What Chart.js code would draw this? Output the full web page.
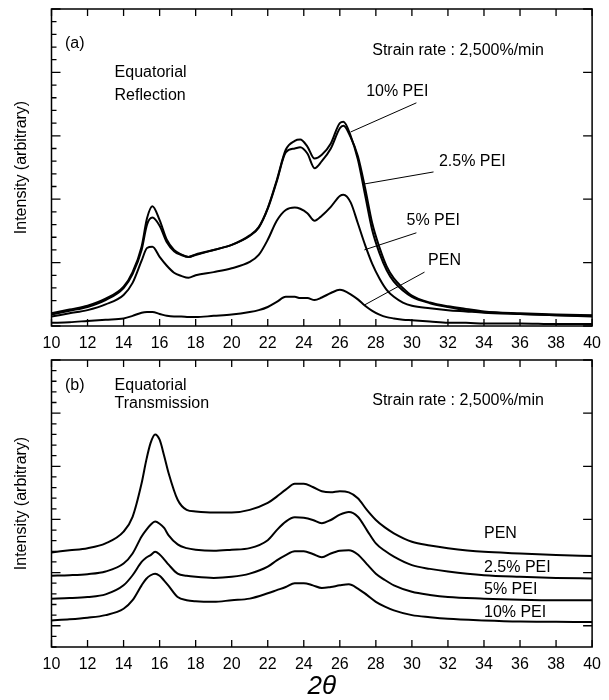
<!DOCTYPE html>
<html>
<head>
<meta charset="utf-8">
<script src="https://cdn.jsdelivr.net/npm/chart.js@4.4.1/dist/chart.umd.min.js"></script>
<style>
  html, body { margin: 0; padding: 0; background: #fff; }
  #wrap { position: relative; width: 609px; height: 700px; }
  canvas { position: absolute; left: 0; }
  #chartA { top: 0; }
  #chartB { top: 350px; }
</style>
</head>
<body>
<div id="wrap">
  <canvas id="chartA" width="609" height="350"></canvas>
  <canvas id="chartB" width="609" height="350"></canvas>
</div>
<script>
// (a) equatorial reflection — 2θ grid and intensities (arbitrary units, 0..50)
const reflTheta = [10, 11, 12, 13, 14, 14.5, 15, 15.3, 15.6, 16, 16.4, 16.8, 17.2, 17.6, 18, 19, 20, 21, 21.5, 22,
  22.5, 23, 23.5, 23.8, 24.2, 24.6, 25, 25.5, 26, 26.2, 26.6, 27, 27.4, 27.8, 28.2, 28.6, 29, 29.5, 30, 31,
  32, 33, 34, 36, 38, 40];
const refl10 = [2.0, 2.6, 3.2, 4.3, 6.2, 8.5, 12.5, 17.0, 18.9, 16.7, 13.6, 12.0, 11.3, 10.9, 11.3, 12.0, 12.8, 14.3, 15.6, 18.6,
  23.0, 27.8, 29.2, 29.4, 28.3, 26.4, 27.0, 28.8, 32.0, 32.2, 30.0, 26.3, 20.7, 15.1, 11.5, 8.8, 7.0, 5.6, 4.6, 3.6,
  3.0, 2.5, 2.2, 1.9, 1.7, 1.6];
const refl25 = [1.8, 2.4, 3.0, 4.1, 6.0, 8.2, 12.0, 16.0, 17.1, 15.8, 13.2, 11.8, 11.2, 10.9, 11.2, 12.0, 12.8, 14.2, 15.5, 18.5,
  22.8, 27.4, 28.0, 28.2, 27.2, 24.9, 26.0, 28.0, 31.2, 31.6, 29.8, 26.8, 21.8, 16.2, 12.4, 9.4, 7.5, 6.0, 4.8, 3.7,
  3.1, 2.7, 2.3, 2.0, 1.8, 1.7];
const refl5 = [1.5, 2.0, 2.5, 3.4, 4.9, 6.8, 10.3, 12.3, 12.5, 10.9, 9.5, 8.4, 7.9, 7.6, 8.0, 8.5, 9.1, 10.1, 11.2, 13.6,
  16.6, 18.3, 18.7, 18.5, 17.8, 16.6, 17.4, 18.8, 20.5, 20.7, 19.5, 16.2, 12.8, 9.8, 7.5, 5.7, 4.6, 3.7, 3.2, 2.8,
  2.5, 2.3, 2.1, 1.9, 1.7, 1.5];
const reflPEN = [0.5, 0.6, 0.8, 1.0, 1.2, 1.6, 2.1, 2.2, 2.2, 1.9, 1.6, 1.5, 1.5, 1.4, 1.4, 1.6, 1.8, 2.2, 2.5, 3.0,
  3.8, 4.6, 4.6, 4.4, 4.4, 4.1, 4.5, 5.2, 5.7, 5.6, 5.0, 4.2, 3.2, 2.4, 1.8, 1.4, 1.2, 1.0, 0.9, 0.7,
  0.5, 0.5, 0.4, 0.4, 0.3, 0.3];

// (b) equatorial transmission — curves offset vertically (arbitrary units, -4..50)
const transTheta = [10, 11, 12, 13, 14, 14.5, 15, 15.25, 15.5, 15.75, 16, 16.25, 16.5, 17, 17.5, 18, 19, 20, 21, 22,
  22.5, 23, 23.5, 24, 24.5, 25, 25.5, 26, 26.5, 27, 27.5, 28, 28.5, 29, 30, 31, 32, 34, 36, 38, 40];
const transPEN = [13.8, 14.2, 14.6, 15.5, 17.7, 20.5, 26.8, 31.0, 34.4, 36.0, 35.0, 32.0, 28.7, 23.7, 21.8, 21.5, 21.3, 21.3, 21.8, 23.1,
  24.3, 25.6, 26.7, 26.7, 26.1, 25.3, 25.1, 25.3, 25.1, 24.0, 21.8, 19.9, 18.5, 17.4, 15.8, 15.1, 14.6, 13.9, 13.6, 13.3, 13.1];
const trans25 = [9.4, 9.5, 9.7, 10.2, 11.7, 13.6, 16.8, 18.0, 19.0, 19.6, 19.2, 18.4, 17.0, 15.3, 14.6, 14.3, 14.1, 14.3, 14.6, 16.1,
  18.0, 19.6, 20.4, 20.3, 19.9, 19.3, 19.9, 20.9, 21.4, 20.5, 18.0, 15.5, 14.1, 13.0, 11.4, 10.7, 10.2, 9.5, 9.2, 9.0, 8.9];
const trans5 = [5.1, 5.2, 5.4, 5.9, 7.6, 9.5, 12.0, 12.8, 13.3, 13.9, 13.4, 12.5, 11.5, 9.8, 9.4, 9.2, 9.0, 9.2, 9.8, 11.1,
  12.3, 13.3, 14.0, 14.0, 13.5, 12.9, 13.6, 14.1, 14.2, 13.4, 11.6, 9.8, 8.6, 7.6, 6.4, 5.8, 5.4, 5.1, 4.9, 4.8, 4.8];
const trans10 = [1.0, 1.2, 1.5, 2.0, 3.2, 4.8, 7.6, 8.8, 9.5, 9.8, 9.4, 8.5, 7.5, 5.4, 4.8, 4.6, 4.5, 4.8, 5.1, 6.1,
  6.7, 7.3, 8.0, 8.0, 7.6, 7.1, 7.3, 7.6, 7.8, 7.0, 5.8, 4.5, 3.6, 2.9, 2.0, 1.6, 1.3, 1.0, 0.8, 0.75, 0.7];

const FONT = "'Liberation Sans', Arial, sans-serif";

// frame plus inward ticks, like the printed figure
const frameTicks = {
  id: 'frameTicks',
  afterDraw(chart) {
    const { ctx, chartArea: a, scales: { x, y } } = chart;
    ctx.save();
    ctx.strokeStyle = '#000';
    ctx.lineWidth = 1.5;
    ctx.strokeRect(a.left, a.top, a.right - a.left, a.bottom - a.top);
    ctx.lineWidth = 1.3;
    ctx.beginPath();
    x.ticks.forEach(t => {
      const px = x.getPixelForValue(t.value);
      ctx.moveTo(px, a.bottom); ctx.lineTo(px, a.bottom - 7);
      ctx.moveTo(px, a.top); ctx.lineTo(px, a.top + 7);
    });
    y.ticks.forEach(t => {
      const py = y.getPixelForValue(t.value);
      const major = Math.abs(t.value % 10) < 1e-6;
      ctx.moveTo(a.left, py); ctx.lineTo(a.left + (major ? 9 : 5), py);
      if (major) { ctx.moveTo(a.right, py); ctx.lineTo(a.right - 9, py); }
    });
    ctx.stroke();
    ctx.restore();
  }
};

// text labels and leader lines, placed in data units
function notes(texts, leaders) {
  return {
    id: 'notes',
    afterDraw(chart) {
      const { ctx, scales: { x, y } } = chart;
      ctx.save();
      ctx.fillStyle = '#000';
      ctx.font = '16px ' + FONT;
      ctx.textAlign = 'left';
      ctx.textBaseline = 'middle';
      texts.forEach(t => ctx.fillText(t.text, x.getPixelForValue(t.x), y.getPixelForValue(t.y)));
      ctx.strokeStyle = '#000';
      ctx.lineWidth = 1;
      ctx.beginPath();
      leaders.forEach(l => {
        ctx.moveTo(x.getPixelForValue(l[0]), y.getPixelForValue(l[1]));
        ctx.lineTo(x.getPixelForValue(l[2]), y.getPixelForValue(l[3]));
      });
      ctx.stroke();
      ctx.restore();
    }
  };
}

function series(theta, vals) {
  return {
    data: theta.map((t, i) => ({ x: t, y: vals[i] })),
    borderColor: '#000',
    borderWidth: 2,
    pointRadius: 0,
    cubicInterpolationMode: 'monotone',
    fill: false
  };
}

function makeChart(id, datasets, yMin, xTitle, padTop, xHeight, plugins) {
  return new Chart(document.getElementById(id), {
    type: 'line',
    data: { datasets },
    options: {
      responsive: false,
      animation: false,
      devicePixelRatio: 1,
      layout: { padding: { left: 0, top: padTop, right: 15, bottom: 0 } },
      plugins: { legend: { display: false }, tooltip: { enabled: false } },
      scales: {
        x: {
          type: 'linear', min: 10, max: 40,
          border: { display: false },
          grid: { display: false, drawTicks: false },
          ticks: { stepSize: 2, color: '#000', font: { family: FONT, size: 16 }, padding: 8, maxRotation: 0, autoSkip: false },
          title: xTitle ? { display: true, text: '2θ', color: '#000',
            font: { family: FONT, size: 26, style: 'italic', lineHeight: 1 }, padding: { top: 0, bottom: 0 } } : { display: false },
          afterFit: s => { s.height = xHeight; }
        },
        y: {
          min: yMin, max: 50,
          border: { display: false },
          grid: { display: false, drawTicks: false },
          ticks: { display: false, stepSize: 2 },
          title: { display: true, text: 'Intensity (arbitrary)', color: '#000',
            font: { family: FONT, size: 16 }, padding: { top: 12, bottom: 0 } },
          afterFit: s => { s.width = 51.5; }
        }
      }
    },
    plugins: [frameTicks, ...plugins]
  });
}

makeChart('chartA', [
  series(reflTheta, refl10),
  series(reflTheta, refl25),
  series(reflTheta, refl5),
  series(reflTheta, reflPEN)
], 0, false, 9, 24, [notes([
  { text: '(a)', x: 10.75, y: 44.6 },
  { text: 'Equatorial', x: 13.5, y: 39.9 },
  { text: 'Reflection', x: 13.5, y: 36.3 },
  { text: 'Strain rate : 2,500%/min', x: 27.8, y: 43.4 },
  { text: '10% PEI', x: 27.46, y: 36.9 },
  { text: '2.5% PEI', x: 31.5, y: 26.0 },
  { text: '5% PEI', x: 29.7, y: 16.7 },
  { text: 'PEN', x: 30.9, y: 10.25 }
], [
  [30.25, 35.2, 26.6, 30.6],
  [31.2, 24.3, 27.36, 22.4],
  [30.25, 14.7, 27.36, 12.0],
  [30.7, 8.5, 27.36, 3.3]
])]);

makeChart('chartB', [
  series(transTheta, transPEN),
  series(transTheta, trans25),
  series(transTheta, trans5),
  series(transTheta, trans10)
], -4, true, 10, 53, [notes([
  { text: '(b)', x: 10.75, y: 45.2 },
  { text: 'Equatorial', x: 13.5, y: 45.2 },
  { text: 'Transmission', x: 13.5, y: 41.8 },
  { text: 'Strain rate : 2,500%/min', x: 27.8, y: 42.3 },
  { text: 'PEN', x: 34.0, y: 17.3 },
  { text: '2.5% PEI', x: 34.0, y: 10.9 },
  { text: '5% PEI', x: 34.0, y: 6.8 },
  { text: '10% PEI', x: 34.0, y: 2.4 }
], [])]);
</script>
</body>
</html>
